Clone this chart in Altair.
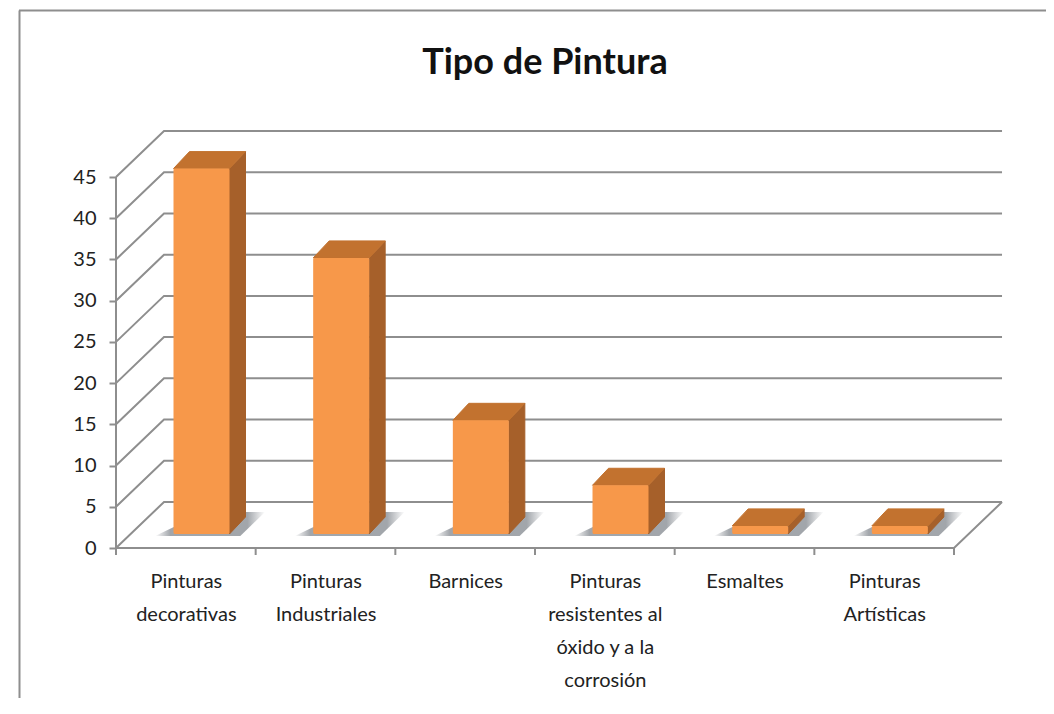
import json
import altair as alt
import pandas as pd

categories = ["Pinturas decorativas", "Pinturas Industriales", "Barnices",
              "Pinturas resistentes al óxido y a la corrosión", "Esmaltes", "Pinturas Artísticas"]
label_lines = [["Pinturas", "decorativas"], ["Pinturas", "Industriales"], ["Barnices"],
               ["Pinturas", "resistentes al", "óxido y a la", "corrosión"], ["Esmaltes"],
               ["Pinturas", "Artísticas"]]
values = [45, 34, 14, 6, 1, 1]
y_ticks = [0, 5, 10, 15, 20, 25, 30, 35, 40, 45]

# plot geometry (pixels per data unit)
PX_X, PX_Y = 139.67, 8.244
W, H = 888, 416
XMAX, YMAX = W / PX_X, H / PX_Y
DX, DY = 48 / PX_X, 46 / PX_Y            # wall depth
BASE = 14 / PX_Y                         # bar foot above front edge
LEFT, BAR_W = 57.5 / PX_X, 56 / PX_X
SX, SY = 16 / PX_X, 17 / PX_Y            # bar depth
PERSP = 0.985                            # bars sit deeper than the front plane

GRID = "#8e8e8e"
TXT = "#222222"
FONT = "Lato"

n = len(categories)
grid_rows = []
for v in y_ticks:
    grid_rows += [dict(level=v, o=0, x=0, y=v), dict(level=v, o=1, x=DX, y=v + DY),
                  dict(level=v, o=2, x=n + DX, y=v + DY)]
grid_rows += [dict(level=-1, o=0, x=0, y=0), dict(level=-1, o=1, x=n, y=0),
              dict(level=-1, o=2, x=n + DX, y=DY)]
grid_rows += [dict(level=-2, o=0, x=0, y=0), dict(level=-2, o=1, x=0, y=45)]
grid_df = pd.DataFrame(grid_rows)

front, side, top, shadow = [], [], [], []
for i, (c, v) in enumerate(zip(categories, values)):
    l, r = i + LEFT, i + LEFT + BAR_W
    t = BASE + v * PERSP
    front.append(dict(cat=c, x=l, x2=r, y=BASE, y2=t))
    side += [dict(cat=c, x=r, y=BASE, y2=t), dict(cat=c, x=r + SX, y=BASE + SY, y2=t + SY)]
    top += [dict(cat=c, y=t, x=l, x2=r), dict(cat=c, y=t + SY, x=l + SX, x2=r + SX)]
    shadow += [dict(cat=c, y=BASE - 2 / PX_Y, x=i + 0.28, x2=i + 0.89),
               dict(cat=c, y=BASE + 22 / PX_Y, x=i + 0.637, x2=i + 1.067)]

label_expr = "%s[floor(datum.value)]" % json.dumps(label_lines, ensure_ascii=False)

X = alt.X("x:Q", scale=alt.Scale(domain=[0, XMAX], nice=False, zero=False), title=None, axis=alt.Axis(
    values=[i + 0.5 for i in range(n)], labelExpr=label_expr, ticks=False, domain=False, grid=False,
    labelFont=FONT, labelFontSize=20, labelColor=TXT, labelPadding=33, labelLineHeight=33,
    labelOverlap=False, labelLimit=300, labelAngle=0, labelAlign="center", labelBaseline="middle"))
Y = alt.Y("y:Q", scale=alt.Scale(domain=[0, YMAX], nice=False, zero=False), title=None, axis=alt.Axis(
    values=y_ticks, domain=False, grid=False, tickSize=7, tickColor=GRID, tickWidth=2,
    labelFont=FONT, labelFontSize=20, labelColor=TXT, labelPadding=13))

frame_df = pd.DataFrame([dict(x=(19.5 - 116) / PX_X, y=(548 - 10.5) / PX_Y, y2=(548 - 714) / PX_Y)])
frame_v = alt.Chart(frame_df).mark_rule(color=GRID, strokeWidth=2).encode(y2="y2:Q")
frame_top_df = pd.DataFrame([dict(x=(19 - 116) / PX_X, x2=(1046 - 116) / PX_X, y=(548 - 10.5) / PX_Y)])
frame_h = alt.Chart(frame_top_df).mark_rule(color=GRID, strokeWidth=2).encode(x2="x2:Q")

grid = alt.Chart(grid_df).mark_line(color=GRID, strokeWidth=2, strokeJoin="miter").encode(
    detail="level:N", order="o:Q")

x_ticks = alt.Chart(pd.DataFrame({"x": list(range(n + 1)), "y": [0] * (n + 1), "y2": [-7 / PX_Y] * (n + 1)})).mark_rule(
    color=GRID, strokeWidth=2).encode(y2="y2:Q")

shadow_fill = alt.Gradient(gradient="linear", x1=0, x2=1, y1=0, y2=0, stops=[
    alt.GradientStop(color="#ffffff", offset=0),
    alt.GradientStop(color="#a2a6ab", offset=0.14),
    alt.GradientStop(color="#a2a6ab", offset=0.84),
    alt.GradientStop(color="#ffffff", offset=1),
])
shadows = alt.Chart(pd.DataFrame(shadow)).mark_area(orient="horizontal", fill=shadow_fill).encode(
    x2="x2:Q", detail="cat:N")

sides = alt.Chart(pd.DataFrame(side)).mark_area(color="#A6602A", stroke="#A6602A", strokeWidth=1, strokeJoin="round").encode(
    y2="y2:Q", detail="cat:N")
tops = alt.Chart(pd.DataFrame(top)).mark_area(orient="horizontal", color="#C2722F", stroke="#C2722F", strokeWidth=1, strokeJoin="round").encode(
    x2="x2:Q", detail="cat:N")
fronts = alt.Chart(pd.DataFrame(front)).mark_bar(color="#F7984A", cornerRadius=1.5).encode(
    x2="x2:Q", y2="y2:Q")

chart = alt.layer(frame_v, frame_h, grid, x_ticks, shadows, sides, tops, fronts).encode(x=X, y=Y).properties(
    width=W, height=H,
    title=alt.TitleParams("Tipo de Pintura", font=FONT, fontSize=36, fontWeight="bold", color="#111111",
                          anchor="middle", dx=-15, offset=-72),
    padding={"left": 108, "top": 124, "right": 42, "bottom": 150},
    autosize=alt.AutoSizeParams(type="none"),
).configure_view(stroke=None)

chart.save("out.html", embed_options={"renderer": "svg", "actions": False})
